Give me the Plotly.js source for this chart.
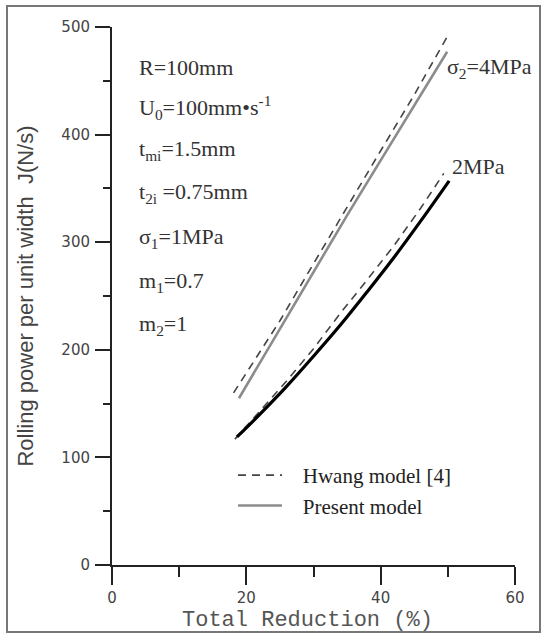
<!DOCTYPE html>
<html>
<head>
<meta charset="utf-8">
<script src="https://cdn.plot.ly/plotly-3.0.1.min.js"></script>
<style>
  html, body { margin: 0; padding: 0; background: #fff; }
  #wrap { position: relative; width: 545px; height: 636px; }
  #chart { position: absolute; left: 0; top: 0; width: 545px; height: 636px; }
  #frame { position: absolute; left: 6px; top: 5px; width: 535px; height: 628px; border: 2px solid #777; box-sizing: border-box; pointer-events: none; }
</style>
</head>
<body>
<div id="wrap">
  <div id="chart"></div>
  <div id="frame"></div>
</div>
<script>
// Total reduction (%) and rolling power per unit width J (N/s)
const hwang4_x   = [18.1, 25, 30, 35, 40, 45, 50.0];
const hwang4_y   = [160, 227, 280, 333, 385, 437, 492];
const present4_x = [18.9, 25, 30, 35, 40, 45, 49.9];
const present4_y = [155, 219, 272, 325, 376, 427, 477];
const hwang2_x   = [18.3, 22, 26, 30, 34, 38, 42, 46, 49.4];
const hwang2_y   = [117, 143, 171, 201, 234, 265, 297, 332, 364];
const present2_x = [18.6, 22, 26, 30, 34, 38, 42, 46, 50.2];
const present2_y = [119, 140, 166, 194, 223, 254, 286, 320, 357];

const paramLabels = [
  "R=100mm",
  "U<sub>0</sub>=100mm•s<sup>-1</sup>",
  "t<sub>mi</sub>=1.5mm",
  "t<sub>2i</sub> =0.75mm",
  "σ<sub>1</sub>=1MPa",
  "m<sub>1</sub>=0.7",
  "m<sub>2</sub>=1"
];
const curveLabels = ["σ<sub>2</sub>=4MPa", "2MPa"];
const legendNames = ["Hwang model [4]", "Present model"];
const xTitle = "Total Reduction (%)";
const yTitle = "Rolling power per unit width  J(N/s)";

const xTicks = [0, 20, 40, 60];
const yTicks = [0, 100, 200, 300, 400, 500];

const serif = "Liberation Serif, Times New Roman, serif";
const pad = "\u00a0\u00a0\u00a0";

const traces = [
  {x: hwang4_x, y: hwang4_y, mode: "lines", name: pad + legendNames[0], showlegend: true,
   line: {color: "#444", width: 1.6, dash: "8px,6px"}},
  {x: present4_x, y: present4_y, mode: "lines", name: pad + legendNames[1], showlegend: true,
   line: {color: "#8c8c8c", width: 2.6}},
  {x: hwang2_x, y: hwang2_y, mode: "lines", showlegend: false,
   line: {color: "#444", width: 1.6, dash: "8px,6px"}},
  {x: present2_x, y: present2_y, mode: "lines", showlegend: false,
   line: {color: "#000", width: 3.2, shape: "spline"}}
];

const paramY = [67, 107, 150, 193, 238, 282, 325]; // pixel centers
const annotations = paramLabels.map((t, i) => ({
  text: t, xref: "paper", yref: "paper",
  x: (137 - 112) / 403, y: (565 - paramY[i]) / 538,
  xanchor: "left", yanchor: "middle", showarrow: false,
  font: {family: serif, size: 22, color: "#333"}
}));
annotations.push({
  text: curveLabels[0], xref: "paper", yref: "paper",
  x: (445 - 112) / 403, y: (565 - 68) / 538, xanchor: "left", yanchor: "middle",
  showarrow: false, font: {family: serif, size: 22, color: "#333"}
});
annotations.push({
  text: curveLabels[1], xref: "paper", yref: "paper",
  x: (450 - 112) / 403, y: (565 - 167) / 538, xanchor: "left", yanchor: "middle",
  showarrow: false, font: {family: serif, size: 22, color: "#333"}
});
annotations.push({
  text: xTitle, xref: "paper", yref: "paper",
  x: (307 - 112) / 403, y: (565 - 620) / 538, xanchor: "center", yanchor: "middle",
  showarrow: false, font: {family: "Liberation Mono, monospace", size: 22, color: "#555"}
});

const layout = {
  width: 545, height: 636,
  margin: {l: 112, r: 30, t: 27, b: 71},
  paper_bgcolor: "#fff", plot_bgcolor: "#fff",
  showlegend: true,
  legend: {
    x: (233 - 112) / 403, y: (565 - 455) / 538, xanchor: "left", yanchor: "top",
    bgcolor: "rgba(0,0,0,0)", font: {family: serif, size: 21, color: "#222"},
    itemwidth: 44, tracegroupgap: 0
  },
  xaxis: {
    range: [0, 60], tickvals: xTicks, ticktext: xTicks.map(String),
    ticks: "outside", ticklen: 18, tickwidth: 2, tickcolor: "#222",
    minor: {dtick: 10, ticks: "outside", ticklen: 10, tickwidth: 2, tickcolor: "#222"},
    showline: true, linecolor: "#222", linewidth: 2,
    showgrid: false, zeroline: false, ticklabelstandoff: 0,
    tickfont: {family: "DejaVu Sans, sans-serif", size: 15, color: "#444"}
  },
  yaxis: {
    range: [0, 500], tickvals: yTicks, ticktext: yTicks.map(String),
    ticks: "outside", ticklen: 15, tickwidth: 2, tickcolor: "#222",
    minor: {dtick: 50, ticks: "outside", ticklen: 7, tickwidth: 2, tickcolor: "#222"},
    showline: true, linecolor: "#222", linewidth: 2,
    showgrid: false, zeroline: false, ticklabelstandoff: 2,
    tickfont: {family: "DejaVu Sans, sans-serif", size: 15, color: "#444"},
    title: {text: yTitle, standoff: 22,
            font: {family: "Liberation Sans, Arial, sans-serif", size: 22, color: "#444"}}
  },
  annotations: annotations
};

Plotly.newPlot("chart", traces, layout, {staticPlot: true, displayModeBar: false});
</script>
</body>
</html>
